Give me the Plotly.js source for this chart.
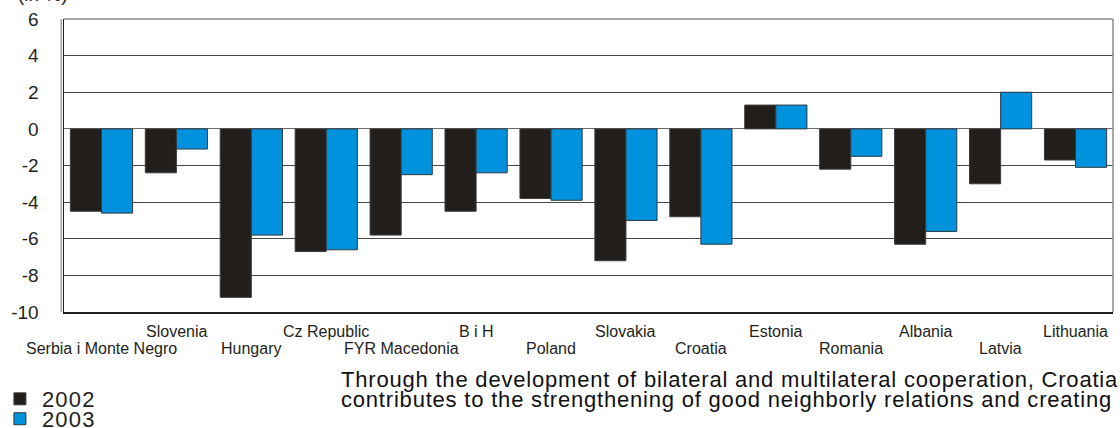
<!DOCTYPE html>
<html>
<head>
<meta charset="utf-8">
<script src="https://cdn.plot.ly/plotly-3.0.1.min.js"></script>
<style>
  html, body { margin: 0; padding: 0; background: #ffffff; }
  #chart { width: 1120px; height: 428px; }
</style>
</head>
<body>
<div id="chart"></div>
<script>
// Current account balance by country (in % of GDP), 2002 and 2003
const categories = [
  'Serbia i Monte Negro', 'Slovenia', 'Hungary', 'Cz Republic', 'FYR Macedonia',
  'B i H', 'Poland', 'Slovakia', 'Croatia', 'Estonia', 'Romania', 'Albania',
  'Latvia', 'Lithuania'
];
const values2002 = [-4.5, -2.4, -9.2, -6.7, -5.8, -4.5, -3.8, -7.2, -4.8, 1.3, -2.2, -6.3, -3.0, -1.7];
const values2003 = [-4.6, -1.1, -5.8, -6.6, -2.5, -2.4, -3.9, -5.0, -6.3, 1.3, -1.5, -5.6, 2.0, -2.1];
const seriesNames = ['2002', '2003'];
const yTicks = [-10, -8, -6, -4, -2, 0, 2, 4, 6];

const unitLabel = '(in %)';
const paragraphLines = [
  'Through the development of bilateral and multilateral cooperation, Croatia',
  'contributes to the strengthening of good neighborly relations and creating'
];

const FONT = 'Liberation Sans, Arial, Helvetica, sans-serif';
const INK = '#231f20';
const DARK = '#221e1b';
const BLUE = '#0092dc';

// slightly tracked text for the legend and the paragraph
const tracked = (s, px) => '<span style="letter-spacing:' + px + 'px">' + s + '</span>';

const traces = [
  {
    type: 'bar', name: tracked(seriesNames[0], 1.2), x: categories, y: values2002,
    marker: { color: DARK, line: { color: '#3c3c3c', width: 1 } },
    legend: 'legend', hoverinfo: 'x+y'
  },
  {
    type: 'bar', name: tracked(seriesNames[1], 1.2), x: categories, y: values2003,
    marker: { color: BLUE, line: { color: '#2e3a40', width: 1 } },
    legend: 'legend2', hoverinfo: 'x+y'
  }
];

// Category labels sit in two staggered rows under the axis
const labelAnnotations = categories.map((c, i) => ({
  xref: 'x', yref: 'paper', x: c, y: 0,
  xanchor: 'center', yanchor: 'middle',
  yshift: i % 2 === 1 ? -19 : -36,
  text: c, showarrow: false,
  font: { family: FONT, size: 16, color: INK }
}));

// Paragraph lines placed one by one to keep the tight line spacing
const paragraphAnnotations = paragraphLines.map((line, i) => ({
  xref: 'paper', yref: 'paper', x: 0.262, y: 0,
  yshift: -67 - i * 20,
  xanchor: 'left', yanchor: 'middle', align: 'left', showarrow: false,
  text: tracked(line, 0.8),
  font: { family: FONT, size: 22, color: '#111111' }
}));

const legendStyle = {
  xanchor: 'left', yanchor: 'middle', itemwidth: 34,
  bgcolor: 'rgba(0,0,0,0)', borderwidth: 0,
  font: { family: FONT, size: 22, color: INK }
};

const layout = {
  width: 1120, height: 428,
  margin: { l: 64, r: 7, t: 19, b: 116, autoexpand: false },
  paper_bgcolor: '#ffffff', plot_bgcolor: '#ffffff',
  font: { family: FONT, color: INK },
  barmode: 'group', bargap: 0.17, bargroupgap: 0,
  xaxis: {
    type: 'category', range: [-0.5, categories.length - 0.5], autorange: false,
    showticklabels: false, showgrid: false,
    showline: true, linecolor: '#1e1e1e', linewidth: 2,
    ticks: '', fixedrange: true
  },
  yaxis: {
    range: [-10, 6], autorange: false, tickvals: yTicks, ticktext: yTicks.map(String),
    showgrid: true, gridcolor: '#474747', gridwidth: 1,
    zeroline: true, zerolinecolor: '#6a6a6a', zerolinewidth: 1,
    showline: true, linecolor: '#1e1e1e', linewidth: 1.5,
    ticks: '', ticklabelstandoff: 20,
    tickfont: { family: FONT, size: 19, color: INK },
    fixedrange: true
  },
  shapes: [
    // frame: top and right edges, plus the outer line of the double left edge
    { type: 'line', xref: 'paper', yref: 'paper', x0: 0, x1: 1, y0: 1, y1: 1, line: { color: '#8a8a8a', width: 1.5 } },
    { type: 'line', xref: 'paper', yref: 'paper', x0: 1, x1: 1, y0: 0, y1: 1, line: { color: '#8a8a8a', width: 1.5 } },
    { type: 'line', xref: 'paper', yref: 'paper', x0: -0.0027, x1: -0.0027, y0: 0, y1: 1, line: { color: '#8a8a8a', width: 1.2 } }
  ],
  annotations: labelAnnotations.concat(paragraphAnnotations, [
    {
      xref: 'paper', yref: 'paper', x: -0.02, y: 1, yshift: 12,
      xanchor: 'center', yanchor: 'bottom', showarrow: false,
      text: unitLabel, font: { family: FONT, size: 19, color: INK }
    }
  ]),
  showlegend: true,
  legend: Object.assign({ x: -0.063, y: -0.297 }, legendStyle),
  legend2: Object.assign({ x: -0.063, y: -0.365 }, legendStyle)
};

Plotly.newPlot('chart', traces, layout, { displayModeBar: false, staticPlot: true });
</script>
</body>
</html>
